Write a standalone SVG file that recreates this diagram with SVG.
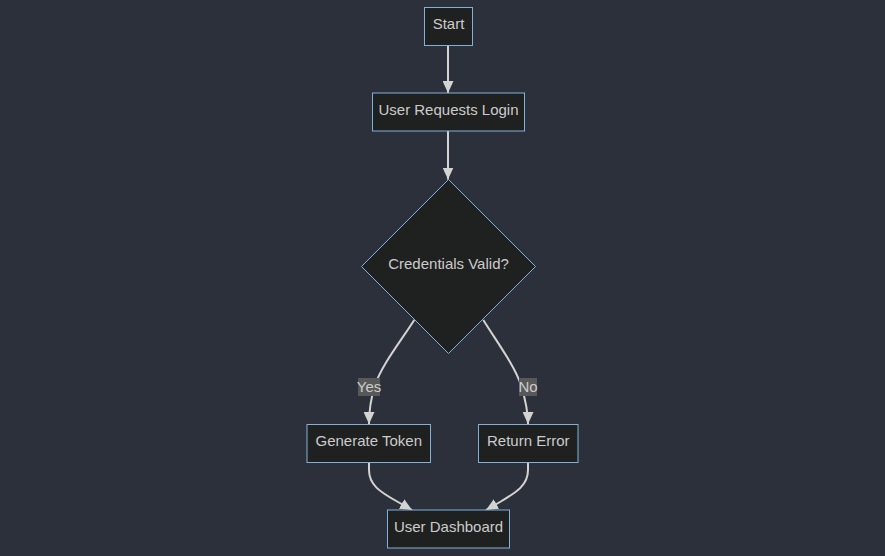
<svg xmlns="http://www.w3.org/2000/svg" width="885" height="556" viewBox="0 0 885 556">
<style>
.node rect,.node polygon{fill:#1f2020;stroke:#81b1db;stroke-width:1}
.node text{fill:#cccccc;font-family:"Liberation Sans",Arial,sans-serif;font-size:15px;text-anchor:middle}
.edge{fill:none;stroke:#d3d3d3;stroke-width:2}
.lbl rect{fill:#585858}
.lbl text{fill:#cccccc;font-family:"Liberation Sans",Arial,sans-serif;font-size:15px;text-anchor:middle}
</style>
<defs>
<marker id="arr" markerUnits="userSpaceOnUse" viewBox="0 0 12 11" refX="12" refY="5.5" markerWidth="12" markerHeight="11" orient="auto">
<path d="M0,0 L12,5.5 L0,11 z" fill="#d3d3d3"/>
</marker>
</defs>
<rect width="885" height="556" fill="#2b303b"/>
<g id="connectors">
<path class="edge" d="M448,45.5 L448,93" marker-end="url(#arr)"/>
<path class="edge" d="M448,131 L448,179.5" marker-end="url(#arr)"/>
<path class="edge" d="M414.3,320 C398,345 382,365 375,385 C371,398 369,410 369,424" marker-end="url(#arr)"/>
<path class="edge" d="M483.3,320 C499,345 514,365 521,385 C525,398 528,410 528,424" marker-end="url(#arr)"/>
<path class="edge" d="M369,463 L369,470 C369,485 380,492 398,502 L412,510" marker-end="url(#arr)"/>
<path class="edge" d="M528,463 L528,470 C528,485 517,492 500,502 L486,510" marker-end="url(#arr)"/>
</g>
<g id="edge-labels">
<g class="lbl" id="label-yes"><rect x="358" y="378" width="22" height="18"/><text x="369" y="391.5">Yes</text></g>
<g class="lbl" id="label-no"><rect x="519" y="378" width="18" height="18"/><text x="528" y="391.5">No</text></g>
</g>
<g class="node" id="start"><rect x="424.5" y="7.5" width="48" height="38"/><text x="448.5" y="29">Start</text></g>
<g class="node" id="login"><rect x="372.5" y="93" width="152" height="38"/><text x="448.5" y="115">User Requests Login</text></g>
<g class="node" id="valid"><polygon points="448.5,179.5 535.5,266.5 448.5,353.5 361.5,266.5"/><text x="448.5" y="268.5">Credentials Valid?</text></g>
<g class="node" id="token"><rect x="307" y="424.5" width="123.5" height="38"/><text x="368.75" y="446">Generate Token</text></g>
<g class="node" id="error"><rect x="478.5" y="424.5" width="99.5" height="38"/><text x="528.25" y="446">Return Error</text></g>
<g class="node" id="dashboard"><rect x="387.5" y="510" width="122" height="38"/><text x="448.5" y="531.5">User Dashboard</text></g>
</svg>
